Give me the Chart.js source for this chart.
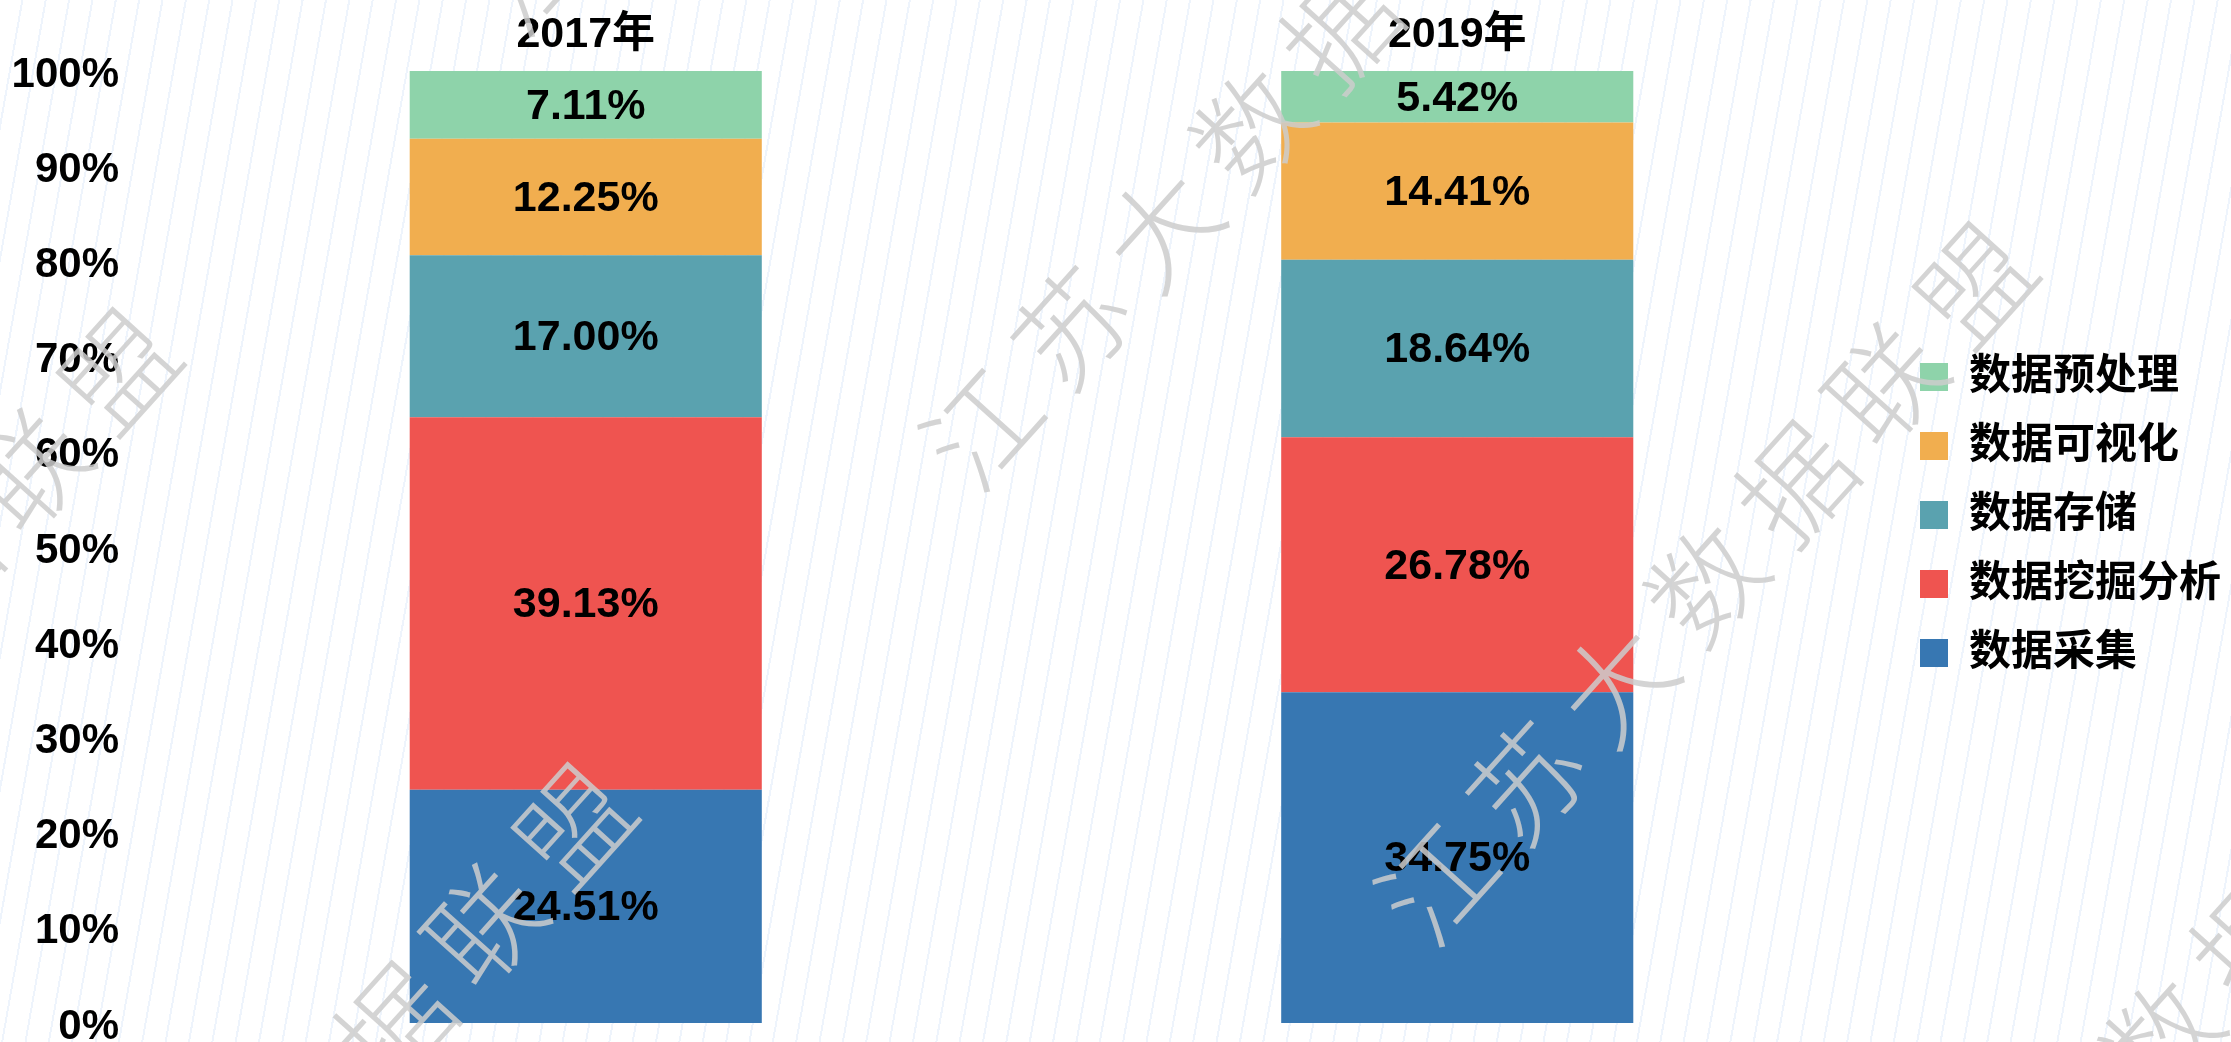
<!DOCTYPE html>
<html lang="zh-CN">
<head>
<meta charset="utf-8">
<title>数据分析环节占比</title>
<script src="https://cdn.jsdelivr.net/npm/chart.js@4.4.1/dist/chart.umd.min.js"></script>
<style>
    html, body { margin: 0; padding: 0; background: #fff; }
    #wrap {
        position: relative;
        width: 2231px;
        height: 1042px;
        /* fondo con rayas diagonales finas */
        background: repeating-linear-gradient(100deg, #ffffff 0 21px, #eef4fc 21px 23px);
    }
</style>
</head>
<body>
<div id="wrap"><canvas id="stackChart"></canvas></div>
<script>
// Datos del gráfico
const years = ['2017年', '2019年'];
const seriesNames = ['数据采集', '数据挖掘分析', '数据存储', '数据可视化', '数据预处理'];
const seriesColors = ['#3777b2', '#ef5450', '#5aa2af', '#f1ae4f', '#8ed3aa'];
const collectValues = [24.51, 34.75];
const miningValues = [39.13, 26.78];
const storageValues = [17.00, 18.64];
const visualValues = [12.25, 14.41];
const preprocessValues = [7.11, 5.42];
const yTicks = [0, 10, 20, 30, 40, 50, 60, 70, 80, 90, 100];

const FONT = "'Liberation Sans', Arial, 'Noto Sans CJK SC', sans-serif";
const seriesValues = [collectValues, miningValues, storageValues, visualValues, preprocessValues];

// Etiquetas de porcentaje centradas en cada segmento
const segmentLabels = {
    id: 'segmentLabels',
    afterDatasetsDraw(chart) {
        const { ctx } = chart;
        ctx.save();
        ctx.font = `bold 43px ${FONT}`;
        ctx.fillStyle = '#000';
        ctx.textAlign = 'center';
        ctx.textBaseline = 'middle';
        chart.data.datasets.forEach((ds, i) => {
            chart.getDatasetMeta(i).data.forEach((bar, j) => {
                ctx.fillText(ds.data[j].toFixed(2) + '%', bar.x, (bar.y + bar.base) / 2 + 2);
            });
        });
        ctx.restore();
    }
};

// Marca de agua "江苏大数据联盟" repetida en diagonal
const watermark = {
    id: 'watermark',
    afterDraw(chart) {
        const { ctx } = chart;
        const text = '江苏大数据联盟';
        const starts = [[982, 427], [1437, 882], [1892, 1337], [36, 1423], [-419, 968], [527, -28]];
        const step = [89.6, -99.6];
        ctx.save();
        ctx.font = `300 112px 'Noto Sans CJK SC', serif`;
        ctx.fillStyle = 'rgba(205, 205, 205, 0.85)';
        ctx.textAlign = 'center';
        ctx.textBaseline = 'middle';
        starts.forEach(([sx, sy]) => {
            [...text].forEach((ch, k) => {
                ctx.save();
                ctx.translate(sx + step[0] * k, sy + step[1] * k);
                ctx.rotate(-48 * Math.PI / 180);
                ctx.fillText(ch, 0, 0);
                ctx.restore();
            });
        });
        ctx.restore();
    }
};

const ctx = document.getElementById('stackChart').getContext('2d');
new Chart(ctx, {
    type: 'bar',
    data: {
        labels: years,
        datasets: seriesNames.map((name, i) => ({
            label: name,
            data: seriesValues[i],
            backgroundColor: seriesColors[i],
            borderWidth: 0,
            barPercentage: 0.404,
            categoryPercentage: 1.0
        }))
    },
    options: {
        responsive: true,
        maintainAspectRatio: false,
        animation: false,
        layout: { padding: { top: 7, bottom: 19, left: 14, right: 0 } },
        plugins: {
            legend: {
                position: 'right',
                reverse: true,
                labels: {
                    boxWidth: 28,
                    boxHeight: 28,
                    padding: 27,
                    color: '#000',
                    font: { family: FONT, size: 42, weight: 'bold' }
                }
            },
            tooltip: { enabled: false }
        },
        scales: {
            x: {
                position: 'top',
                stacked: true,
                grid: { display: false, drawTicks: false },
                border: { display: false },
                afterFit: (axis) => { axis.height = 64; },
                ticks: {
                    padding: 10,
                    color: '#000',
                    font: { family: FONT, size: 43, weight: 'bold', lineHeight: 1.2 }
                }
            },
            y: {
                stacked: true,
                min: 0,
                max: 100,
                afterBuildTicks: (axis) => { axis.ticks = yTicks.map(v => ({ value: v })); },
                afterFit: (axis) => {
                    axis.width = 136;
                    axis.paddingTop = 0;
                    axis.paddingBottom = 0;
                },
                grid: { display: false, drawTicks: false },
                border: { display: false },
                ticks: {
                    padding: 31,
                    labelOffset: 4,
                    color: '#000',
                    font: { family: FONT, size: 42, weight: 'bold' },
                    callback: (v) => v + '%'
                }
            }
        }
    },
    plugins: [segmentLabels, watermark]
});
</script>
</body>
</html>
